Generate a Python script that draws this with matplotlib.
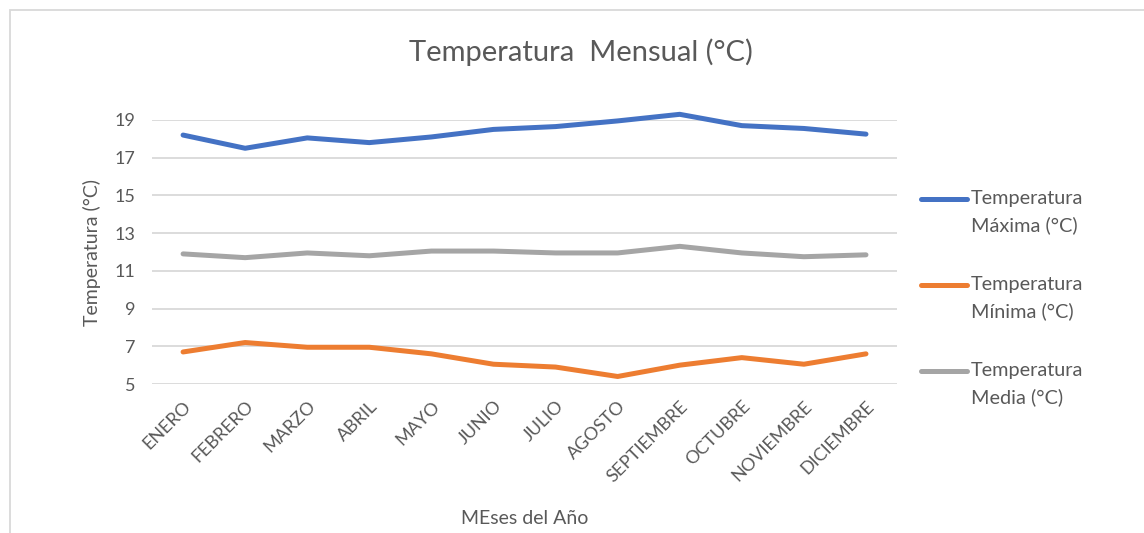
"""Temperatura mensual: maxima, minima y media por mes."""

import matplotlib
matplotlib.use("Agg")
import matplotlib.pyplot as plt
from matplotlib.lines import Line2D
from matplotlib.patches import Rectangle

plt.rcParams["font.family"] = ["Lato", "DejaVu Sans"]

meses = ["ENERO", "FEBRERO", "MARZO", "ABRIL", "MAYO", "JUNIO", "JULIO",
         "AGOSTO", "SEPTIEMBRE", "OCTUBRE", "NOVIEMBRE", "DICIEMBRE"]
t_max = [18.2, 17.5, 18.05, 17.8, 18.1, 18.5, 18.65, 18.95, 19.3, 18.7, 18.55, 18.25]
t_min = [6.7, 7.2, 6.95, 6.95, 6.6, 6.05, 5.9, 5.4, 6.0, 6.4, 6.05, 6.6]
t_med = [11.9, 11.7, 11.95, 11.8, 12.05, 12.05, 11.95, 11.95, 12.3, 11.95, 11.75, 11.85]
y_ticks = [5, 7, 9, 11, 13, 15, 17, 19]

series = [
    ("Temperatura\nMáxima (°C)", t_max, "#4472C4"),
    ("Temperatura\nMínima (°C)", t_min, "#ED7D31"),
    ("Temperatura\nMedia (°C)", t_med, "#A5A5A5"),
]
TXT = "#595959"

fig = plt.figure(figsize=(11.44, 5.33), dpi=100)
# marco del area del grafico
fig.add_artist(Rectangle((10 / 1144, -0.01), 1.2, 1 - 10 / 533 + 0.01,
                         transform=fig.transFigure, fill=False,
                         edgecolor="#D9D9D9", lw=1.3))
ax = fig.add_axes([0.1329, 0.2795, 0.6512, 0.4954])

x = range(len(meses))
for label, vals, color in series:
    ax.plot(x, vals, color=color, lw=3.6, solid_capstyle="round",
            solid_joinstyle="round", zorder=3, clip_on=False)

ax.set_xlim(-0.5, len(meses) - 0.5)
ax.set_ylim(5, 19)
ax.set_yticks(y_ticks)
ax.set_xticks(list(x))
ax.set_xticklabels(meses, rotation=45, ha="right", rotation_mode="anchor")
ax.tick_params(length=0, labelsize=13, labelcolor=TXT)
ax.tick_params(axis="x", pad=10)
ax.tick_params(axis="y", pad=12)
ax.grid(axis="y", color="#D9D9D9", lw=1.3, zorder=0)
for s in ax.spines.values():
    s.set_visible(False)

ax.set_ylabel("Temperatura (°C)", fontsize=14, color=TXT, labelpad=10)
ax.set_xlabel("MEses del Año", fontsize=14, color=TXT, labelpad=18)
fig.text(0.508, 0.903, "Temperatura  Mensual (°C)", ha="center", va="center",
         fontsize=21, color=TXT)

# leyenda a mano: la linea queda a la altura de la primera fila del texto
for i, (label, vals, color) in enumerate(series):
    yf = 1 - (199 + 86 * i) / 533
    fig.add_artist(Line2D([921 / 1144, 967 / 1144], [yf, yf], color=color, lw=3.6,
                          solid_capstyle="round", transform=fig.transFigure))
    fig.text(971 / 1144, yf + 9 / 533, label, ha="left", va="top",
             fontsize=14.3, color=TXT, linespacing=1.65)

plt.savefig("out.png", dpi=100)
